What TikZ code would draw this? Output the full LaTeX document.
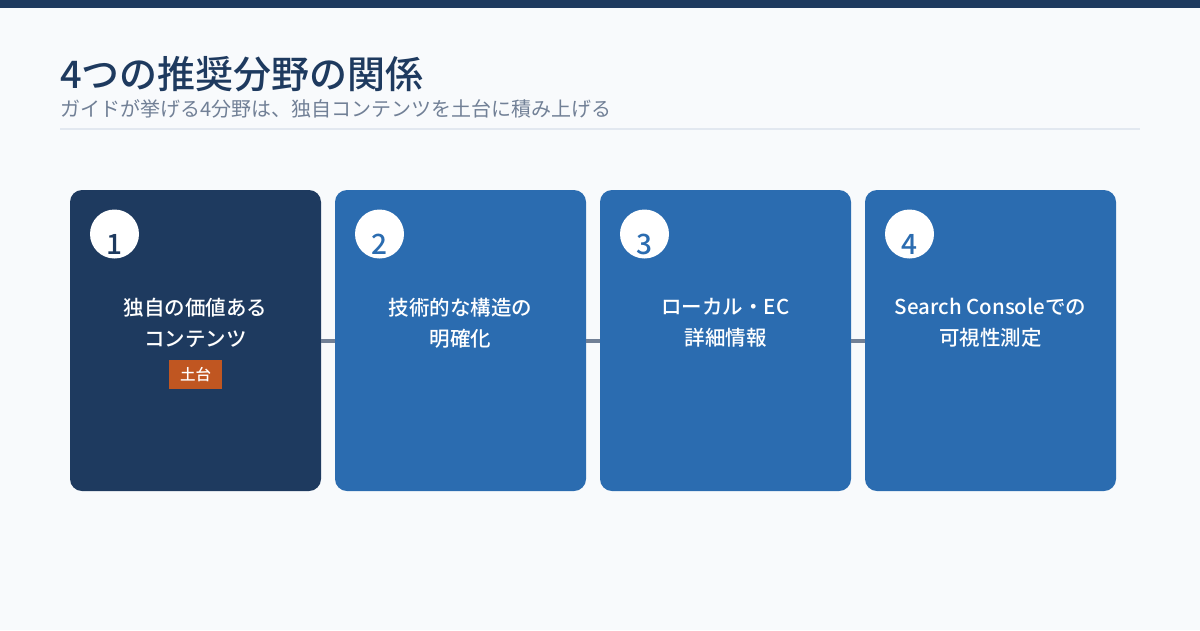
\documentclass[tikz,border=0pt]{standalone}
\usepackage{fontspec}
\setmainfont{Noto Sans CJK JP}
\newfontfamily\jpmedium{Noto Sans CJK JP Medium}
\usepackage{tikz}
\usetikzlibrary{positioning, shapes, calc}
\definecolor{navy}{HTML}{1E3A5F}
\definecolor{cardblue}{HTML}{2B6CB0}
\definecolor{badgeorange}{HTML}{C05621}
\definecolor{slategray}{HTML}{718096}
\definecolor{paleline}{HTML}{E2E8F0}
\definecolor{pagebg}{HTML}{F8FAFC}

\begin{document}
\begin{tikzpicture}[x=1pt, y=-1pt,
  card/.style={rectangle, rounded corners=12pt, minimum width=251pt, minimum height=301pt, inner sep=0pt, outer sep=0pt},
  numdisc/.style={circle, fill=white, minimum size=49pt, inner sep=0pt},
  numtext/.style={anchor=base, inner sep=0pt, font=\jpmedium\fontsize{28}{30}\selectfont},
  cardtext/.style={align=center, text=white, inner sep=0pt, font=\jpmedium\fontsize{20.5}{31}\selectfont},
  link/.style={draw=slategray, line width=4pt}]
%% page and header
\useasboundingbox (0,0) rectangle (1200,630);
\fill[pagebg] (0,0) rectangle (1200,630);
\fill[navy] (0,0) rectangle (1200,8);
\node[anchor=base west, inner sep=0pt, text=navy, font=\jpmedium\fontsize{38}{40}\selectfont] (title) at (60,88) {4つの推奨分野の関係};
\node[anchor=base west, inner sep=0pt, text=slategray, font=\fontsize{20}{24}\selectfont] (subtitle) at (60,116) {ガイドが挙げる4分野は、独自コンテンツを土台に積み上げる};
\draw[paleline, line width=2pt] (60,129) -- (1140,129);

%% cards
\node[card, fill=navy] (base) at (195.5,340.5) {};
\node[card, fill=cardblue] (tech) at (460.5,340.5) {};
\node[card, fill=cardblue] (local) at (725.5,340.5) {};
\node[card, fill=cardblue] (console) at (990.5,340.5) {};

\draw[link] (base.east) -- (tech.west);
\draw[link] (tech.east) -- (local.west);
\draw[link] (local.east) -- (console.west);

%% numbers
\node[numdisc] (d1) at (114.5,234) {};
\node[numdisc] (d2) at (379.5,234) {};
\node[numdisc] (d3) at (644.5,234) {};
\node[numdisc] (d4) at (909.5,234) {};
\node[numtext, text=navy] (n1) at (114.5,254) {1};
\node[numtext, text=cardblue] (n2) at (379.5,254) {2};
\node[numtext, text=cardblue] (n3) at (644.5,254) {3};
\node[numtext, text=cardblue] (n4) at (909.5,254) {4};

%% labels
\node[cardtext] (t1) at (195.5,323) {独自の価値ある\\コンテンツ};
\node[cardtext] (t2) at (460.5,323) {技術的な構造の\\明確化};
\node[cardtext] (t3) at (725.5,323) {ローカル・EC\\詳細情報};
\node[cardtext] (t4) at (990.5,323) {Search Consoleでの\\可視性測定};
\node[fill=badgeorange, text=white, minimum width=53pt, minimum height=29pt, inner sep=0pt, font=\jpmedium\fontsize{15.5}{18}\selectfont] (tag) at (195.5,374.5) {土台};
\end{tikzpicture}
\end{document}
